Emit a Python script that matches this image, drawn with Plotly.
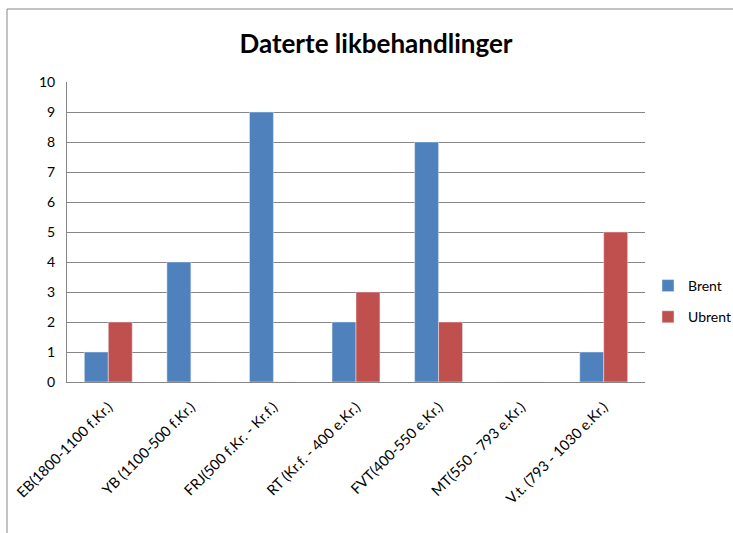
import plotly.graph_objects as go

categories = ["EB(1800-1100 f.Kr.)", "YB (1100-500 f.Kr.)", "FRJ(500 f.Kr. - Kr.f.)",
              "RT (Kr.f. - 400 e.Kr.)", "FVT(400-550 e.Kr.)", "MT(550 - 793 e.Kr.)",
              "V.t. (793 - 1030 e.Kr.)"]
brent = [1, 4, 9, 2, 8, 0, 1]
ubrent = [2, 0, 0, 3, 2, 0, 5]
y_ticks = list(range(0, 11))

FONT = "Lato, Liberation Sans, sans-serif"

fig = go.Figure()
fig.add_trace(go.Bar(name="Brent", x=categories, y=brent, marker_color="#4F81BD",
                     legendgroup="a"))
fig.add_trace(go.Bar(name="Ubrent", x=categories, y=ubrent, marker_color="#C0504D",
                     legendgroup="b"))

L, R, T, B = 67, 645, 82, 382
W, H = 733, 533

fig.update_layout(
    width=W, height=H,
    margin=dict(l=L, r=W - R, t=T, b=H - B, pad=0, autoexpand=False),
    barmode="group", bargap=0.42, bargroupgap=0,
    plot_bgcolor="white", paper_bgcolor="white",
    font=dict(family=FONT, size=14, color="#000000"),
    title=dict(text="<b>Daterte likbehandlinger</b>", x=376 / W, xanchor="center",
               xref="container",
               y=1 - 44 / H, yanchor="middle",
               font=dict(family=FONT, size=26, color="#000000")),
    showlegend=True,
    legend=dict(x=(648 - L) / (R - L), xanchor="left", y=(B - 270) / (B - T), yanchor="top",
                font=dict(family=FONT, size=14), itemwidth=30, tracegroupgap=10,
                bgcolor="rgba(0,0,0,0)"),
    xaxis=dict(tickangle=-45, showline=True, linecolor="#868686", ticks="",
               tickfont=dict(family=FONT, size=14.5), automargin=False,
               ticklabelstandoff=10, showgrid=False),
    yaxis=dict(range=[0, 10], tickvals=y_ticks, showgrid=True, gridcolor="#868686",
               showline=True, linecolor="#868686", ticks="outside", ticklen=8,
               tickcolor="rgba(0,0,0,0)", automargin=False,
               tickfont=dict(family=FONT, size=14), zeroline=False),
)

fig.add_shape(type="rect", xref="paper", yref="paper",
              x0=(7 - L) / (R - L), x1=(740 - L) / (R - L),
              y0=(B - 540) / (B - T), y1=(B - 9) / (B - T),
              line=dict(color="#868686", width=1), fillcolor="rgba(0,0,0,0)", layer="below")

fig.write_html("out.html", config={"displayModeBar": False},
               post_script="document.body.style.margin='0';")
